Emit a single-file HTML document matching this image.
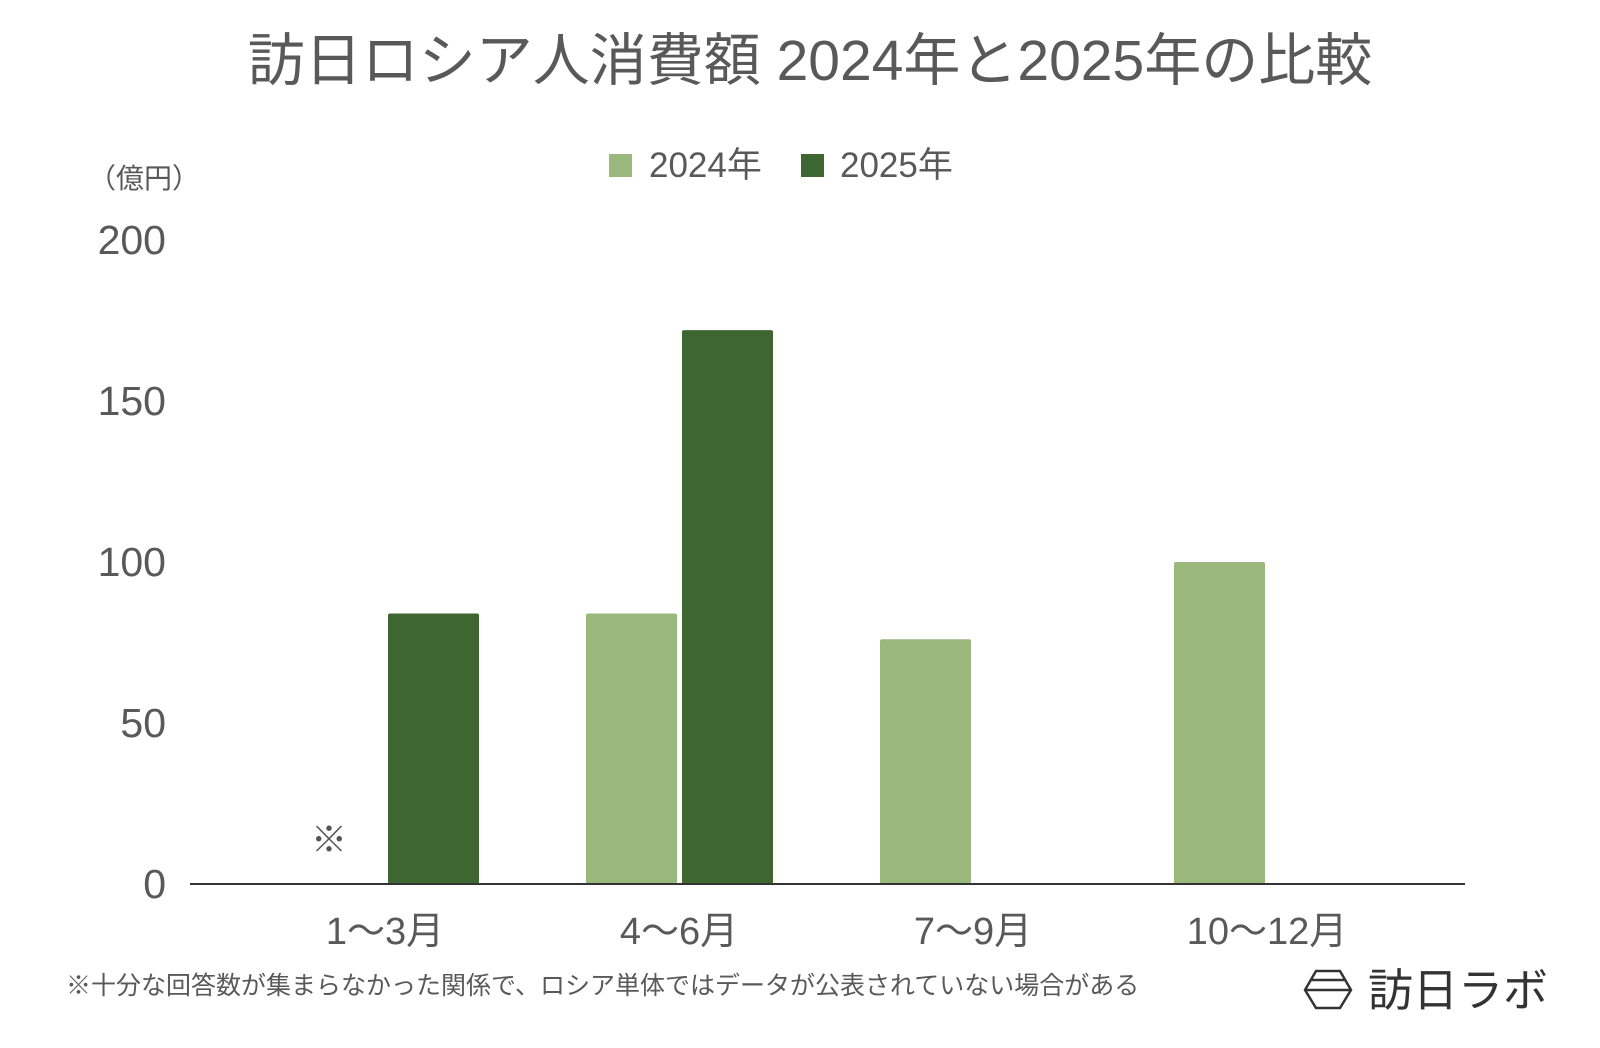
<!DOCTYPE html>
<html><head><meta charset="utf-8"><style>
body{margin:0;width:1600px;height:1043px;background:#fff;overflow:hidden;font-family:"Liberation Sans","Noto Sans CJK JP",sans-serif;}
svg text{font-family:"Liberation Sans","Noto Sans CJK JP",sans-serif;}
</style></head><body>
<svg id="chart" width="1600" height="1043" xmlns="http://www.w3.org/2000/svg">
<text x="810" y="80" text-anchor="middle" font-size="57" fill="#595959">訪日ロシア人消費額 2024年と2025年の比較</text>
<g>
<rect x="609" y="154" width="23" height="23" fill="#9ab87c"/>
<text x="649" y="177" font-size="35" fill="#595959">2024年</text>
<rect x="801" y="154" width="23" height="23" fill="#3e6631"/>
<text x="840" y="177" font-size="35" fill="#595959">2025年</text>
</g>
<text x="88" y="188" font-size="28" fill="#595959">（億円）</text>
<g id="yticks"></g>
<g id="bars"></g>
<line x1="190" y1="884" x2="1465" y2="884" stroke="#333" stroke-width="2"/>
<g id="xlabels"></g>
<text x="329" y="852" text-anchor="middle" font-size="36" fill="#555">※</text>
<text x="66" y="994" font-size="25" fill="#595959">※十分な回答数が集まらなかった関係で、ロシア単体ではデータが公表されていない場合がある</text>
<g>
<path d="M1305,990 L1316,971 L1340,971 L1351,990 L1340,1008 L1316,1008 Z M1311,980 L1345,980 M1305,990 L1351,990" fill="none" stroke="#333" stroke-width="2.5"/>
<text x="1368" y="1006" font-size="45" fill="#333">訪日ラボ</text>
</g>
</svg>
<script>
const categories=["1〜3月","4〜6月","7〜9月","10〜12月"];
const values2024=[null,84,76,100];
const values2025=[84,172,null,null];
const yTicks=[0,50,100,150,200];
const NS="http://www.w3.org/2000/svg";
const y=v=>884-v*3.22;
const cx=i=>385+i*294;
const yt=document.getElementById('yticks');
yTicks.forEach(t=>{const e=document.createElementNS(NS,'text');


e.setAttribute('x',166);e.setAttribute('y',y(t)+14);e.setAttribute('text-anchor','end');e.setAttribute('font-size','41');e.setAttribute('fill','#595959');e.textContent=t;yt.appendChild(e);});
const bg=document.getElementById('bars');
function bar(v,x,c,n){if(v==null)return;const r=document.createElementNS(NS,'rect');


r.setAttribute('x',x);r.setAttribute('y',y(v));r.setAttribute('width',91);r.setAttribute('height',884-y(v));r.setAttribute('rx',2);r.setAttribute('fill',c);bg.appendChild(r);}
const xl=document.getElementById('xlabels');
categories.forEach((c,i)=>{bar(values2024[i],cx(i)-93,'#9ab87c','bar-2024');bar(values2025[i],cx(i)+3,'#3e6631','bar-2025');
const e=document.createElementNS(NS,'text');


e.setAttribute('x',cx(i));e.setAttribute('y',944);e.setAttribute('text-anchor','middle');e.setAttribute('font-size','38');e.setAttribute('fill','#595959');e.textContent=c;xl.appendChild(e);});
</script>
</body></html>
